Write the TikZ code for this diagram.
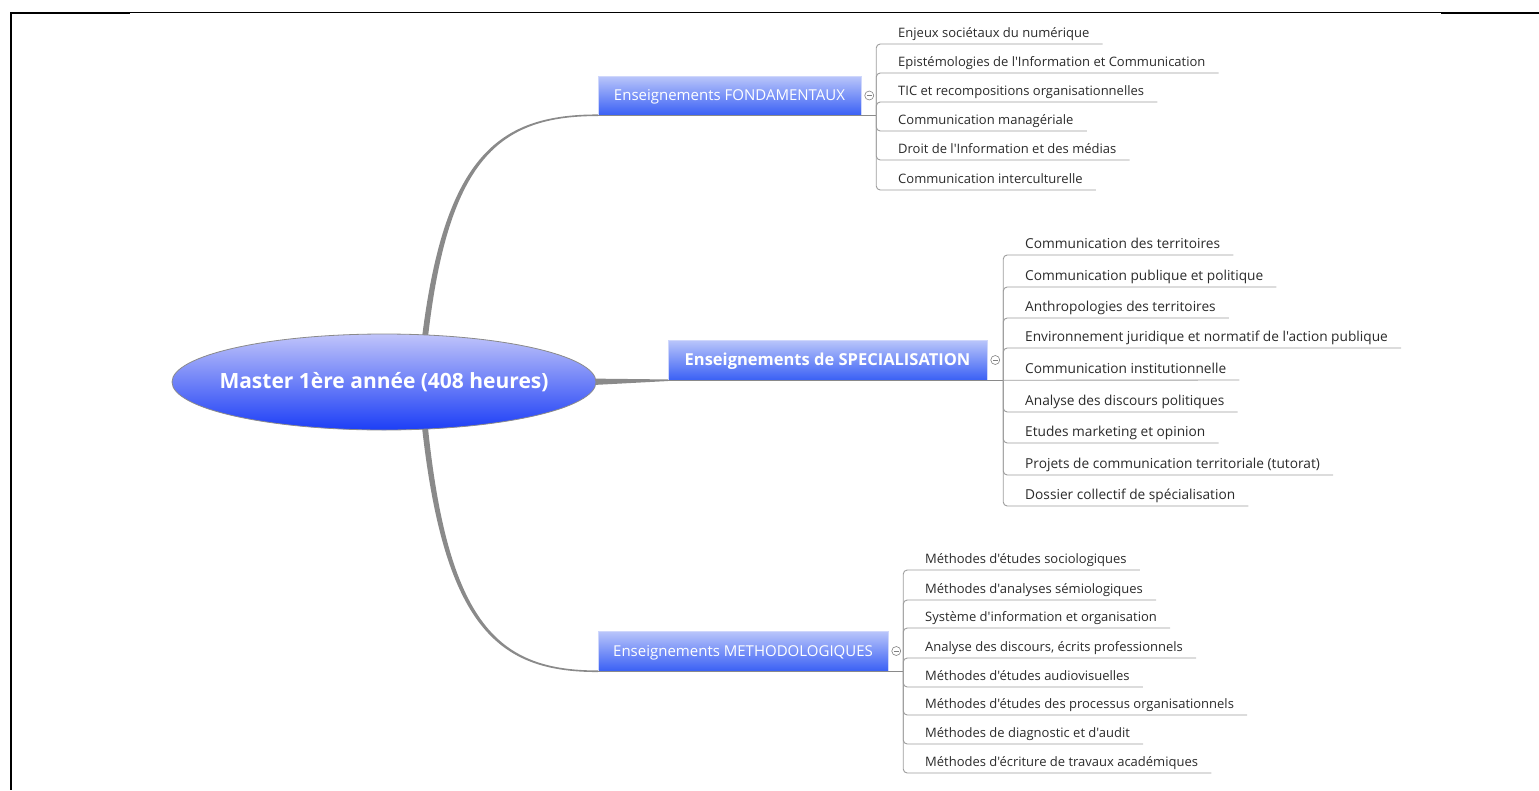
\documentclass[tikz,border=0pt]{standalone}
\usepackage{fontspec}
\newfontfamily\osans{Open Sans}
\usetikzlibrary{calc,shapes.geometric}
\definecolor{lineg}{HTML}{8A8A8A}
\definecolor{leafg}{HTML}{9C9C9C}
\definecolor{leaftext}{HTML}{2A2A2A}
\definecolor{rootTop}{RGB}{192,196,250}
\definecolor{rootBot}{RGB}{28,62,246}
\definecolor{brTop}{RGB}{186,198,250}
\definecolor{brBot}{RGB}{58,96,245}
\tikzset{
  rootnode/.style={ellipse, draw=lineg, line width=0.8pt, top color=rootTop, bottom color=rootBot,
    minimum width=424pt, minimum height=96pt, inner sep=0pt},
  roottext/.style={inner sep=0pt, text=white, font=\osans\fontsize{21}{25}\selectfont\bfseries},
  branchbox/.style={rectangle, draw=brTop!70!white, line width=0.5pt, top color=brTop, bottom color=brBot,
    inner sep=0pt, text=white, text height=12.5pt, text depth=2pt, font=\osans\fontsize{15}{18}\selectfont},
  leafA/.style={inner xsep=0pt, inner ysep=3.5pt, text height=9pt, text depth=3pt, anchor=south west,
    text=leaftext, font=\osans\fontsize{13}{15}\selectfont},
  leafB/.style={leafA, font=\osans\fontsize{13.7}{16}\selectfont},
  twig/.style={draw=leafg, line width=0.9pt, rounded corners=4pt},
  trunk/.style={draw=lineg, line width=1.4pt},
  collapse/.style={circle, draw=gray, line width=0.6pt, minimum size=9pt, inner sep=0pt, fill=white},
}
\newcommand{\lf}[1]{\hspace*{22pt}#1\hspace*{13pt}}
\begin{document}
\begin{tikzpicture}[x=1pt,y=-1pt]
\useasboundingbox (0,0) rectangle (1539,790);
% frame
\draw[line width=1pt] (11,12.5) -- (1539,12.5);
\draw[line width=2pt] (11,13) -- (130,13);
\draw[line width=2pt] (1441,13) -- (1539,13);
\draw[line width=2pt] (11,12) -- (11,790);

% branch nodes
\node[branchbox, minimum width=263pt, minimum height=39pt] (fond) at (729.5,95.5) {Enseignements FONDAMENTAUX};
\node[branchbox, minimum width=319pt, minimum height=40pt, font=\osans\fontsize{16.5}{19}\selectfont\bfseries] (spec) at (827.5,360) {Enseignements de SPECIALISATION};
\node[branchbox, minimum width=290pt, minimum height=40pt] (meth) at (743,651) {Enseignements METHODOLOGIQUES};

% root position (for connector anchors)
\coordinate (rc) at (384,382);
\coordinate (t0) at ($(rc)+(37,-36)$);
\coordinate (t1) at ($(rc)+(43,-36)$);
\coordinate (fe0) at ($(fond.south west)+(0,-0.8)$);
\coordinate (fe1) at ($(fond.south west)+(0,0.8)$);
\coordinate (b0) at ($(rc)+(37,36)$);
\coordinate (b1) at ($(rc)+(43,36)$);
\coordinate (me0) at ($(meth.south west)+(0,0.8)$);
\coordinate (me1) at ($(meth.south west)+(0,-0.8)$);
\coordinate (s0) at ($(rc)+(200,-3.5)$);
\coordinate (s1) at ($(rc)+(200,3.5)$);
\coordinate (se0) at ($(spec.south west)+(0,-0.8)$);
\coordinate (se1) at ($(spec.south west)+(0,0.8)$);

\fill[lineg] (t0) .. controls +(22,-190) and +(-100,0) .. (fe0) -- (fe1) .. controls +(-98,0) and +(20,-189) .. (t1) -- cycle;
\fill[lineg] (b0) .. controls +(22,210) and +(-100,0) .. (me0) -- (me1) .. controls +(-98,0) and +(20,209) .. (b1) -- cycle;
\fill[lineg] (s0) -- (se0) -- (se1) -- (s1) -- cycle;

% root
\node[rootnode] (root) at (rc) {};
\node[roottext] (rootlabel) at (root.center) {Master 1ère année (408 heures)};

% bracket points
\coordinate (fb) at ($(fond.south east)+(15,0)$);
\coordinate (sb) at ($(spec.south east)+(16,0)$);
\coordinate (mb) at ($(meth.south east)+(15,0)$);
\draw[trunk] (fond.south west) -- (fb);
\draw[trunk] (spec.south west) -- (sb);
\draw[trunk] (meth.south west) -- (mb);

% collapse markers
\foreach \b in {fond,spec,meth}{
  \node[collapse] (c\b) at ($(\b.east)+(8,0)$) {};
  \draw[gray, line width=0.6pt] ($(c\b.center)+(-2.3,0)$) -- ($(c\b.center)+(2.3,0)$);
}

% leaves: fondamentaux
\node[leafA] (f1) at (876,44)  {\lf{Enjeux sociétaux du numérique}};
\node[leafA] (f2) at (876,73)  {\lf{Epistémologies de l'Information et Communication}};
\node[leafA] (f3) at (876,102) {\lf{TIC et recompositions organisationnelles}};
\node[leafA] (f4) at (876,131) {\lf{Communication managériale}};
\node[leafA] (f5) at (876,160) {\lf{Droit de l'Information et des médias}};
\node[leafA] (f6) at (876,190) {\lf{Communication interculturelle}};
\foreach \i in {1,...,6} \draw[twig] (fb) |- (f\i.south east);

% leaves: specialisation
\node[leafB] (s1n) at (1003,255) {\lf{Communication des territoires}};
\node[leafB] (s2n) at (1003,287) {\lf{Communication publique et politique}};
\node[leafB] (s3n) at (1003,318) {\lf{Anthropologies des territoires}};
\node[leafB] (s4n) at (1003,348) {\lf{Environnement juridique et normatif de l'action publique}};
\node[leafB] (s5n) at (1003,380) {\lf{Communication institutionnelle}};
\node[leafB] (s6n) at (1003,412) {\lf{Analyse des discours politiques}};
\node[leafB] (s7n) at (1003,443) {\lf{Etudes marketing et opinion}};
\node[leafB] (s8n) at (1003,475) {\lf{Projets de communication territoriale (tutorat)}};
\node[leafB] (s9n) at (1003,506) {\lf{Dossier collectif de spécialisation}};
\foreach \i in {1,2,3,4,6,7,8,9} \draw[twig] (sb) |- (s\i n.south east);
\draw[twig] (sb) -- (s5n.south east);

% leaves: methodologiques
\node[leafA] (m1) at (903,570) {\lf{Méthodes d'études sociologiques}};
\node[leafA] (m2) at (903,600) {\lf{Méthodes d'analyses sémiologiques}};
\node[leafA] (m3) at (903,628) {\lf{Système d'information et organisation}};
\node[leafA] (m4) at (903,658) {\lf{Analyse des discours, écrits professionnels}};
\node[leafA] (m5) at (903,687) {\lf{Méthodes d'études audiovisuelles}};
\node[leafA] (m6) at (903,715) {\lf{Méthodes d'études des processus organisationnels}};
\node[leafA] (m7) at (903,744) {\lf{Méthodes de diagnostic et d'audit}};
\node[leafA] (m8) at (903,773) {\lf{Méthodes d'écriture de travaux académiques}};
\foreach \i in {1,...,8} \draw[twig] (mb) |- (m\i.south east);
\end{tikzpicture}
\end{document}
